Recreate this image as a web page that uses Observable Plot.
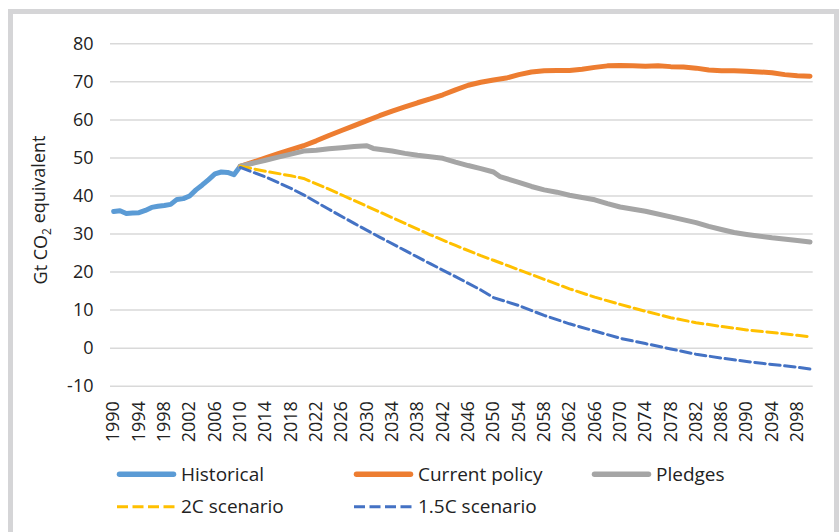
<!DOCTYPE html>
<html><head><meta charset="utf-8">
<script src="https://cdn.jsdelivr.net/npm/d3@7"></script>
<script src="https://cdn.jsdelivr.net/npm/@observablehq/plot@0.6"></script>
<style>
html,body{margin:0;padding:0;background:#fff;overflow:hidden;width:839px;height:532px}
#frame{position:absolute;left:8px;top:9px;width:831px;height:600px;border:5px solid #d5d5d7;box-sizing:border-box}
#chart{position:absolute;left:0;top:0}
#legend{position:absolute;left:0;top:455px}
</style></head><body>
<div id="frame"></div>
<div id="chart"></div>
<div id="legend"></div>
<script>
// ---- data ----
const histYears  = [1990,1991,1992,1993,1994,1995,1996,1997,1998,1999,2000,2001,2002,2003,2004,2005,2006,2007,2008,2009,2010];
const histValues = [35.9,36.1,35.4,35.5,35.6,36.2,37.0,37.3,37.5,37.8,39.1,39.3,40.0,41.6,42.9,44.3,45.8,46.3,46.2,45.6,47.8];

const policyYears  = [2010,2012,2014,2016,2018,2020,2022,2024,2026,2028,2030,2032,2034,2036,2038,2040,2042,2044,2046,2048,2050,2052,2054,2056,2058,2060,2062,2064,2066,2068,2070,2072,2074,2076,2078,2080,2082,2084,2086,2088,2090,2092,2094,2096,2098,2100];
const policyValues = [47.8,48.9,50.0,51.1,52.2,53.2,54.5,55.9,57.2,58.5,59.8,61.1,62.3,63.4,64.5,65.5,66.6,67.9,69.1,69.9,70.5,71.0,71.9,72.6,72.9,73.0,73.0,73.3,73.8,74.2,74.3,74.2,74.1,74.2,74.0,73.9,73.6,73.1,72.9,72.9,72.8,72.6,72.4,71.9,71.6,71.5];

const pledgeYears  = [2010,2012,2014,2016,2018,2020,2022,2024,2026,2028,2030,2031,2034,2036,2038,2040,2042,2044,2046,2048,2050,2051,2054,2056,2058,2060,2062,2064,2066,2068,2070,2074,2078,2082,2084,2086,2088,2090,2094,2098,2100];
const pledgeValues = [47.8,48.6,49.4,50.2,51.0,51.8,52.0,52.4,52.7,53.0,53.2,52.5,51.8,51.2,50.7,50.3,49.9,48.9,48.0,47.2,46.3,45.1,43.6,42.5,41.6,41.0,40.2,39.6,39.0,38.0,37.1,36.0,34.5,33.0,32.0,31.2,30.4,29.9,29.0,28.3,27.9];

const c2Years  = [2010,2014,2018,2020,2024,2028,2032,2036,2040,2044,2048,2050,2054,2058,2062,2066,2070,2074,2078,2082,2086,2090,2094,2098,2100];
const c2Values = [47.8,46.5,45.3,44.6,41.8,38.8,35.8,32.8,29.8,27.0,24.3,23.1,20.6,18.1,15.6,13.4,11.5,9.7,8.0,6.7,5.7,4.8,4.1,3.4,3.0];

const c15Years  = [2010,2014,2018,2020,2024,2028,2032,2036,2040,2044,2048,2050,2054,2058,2062,2066,2070,2074,2078,2082,2086,2090,2094,2098,2100];
const c15Values = [47.5,45.0,42.0,40.3,36.5,32.8,29.2,25.7,22.2,18.8,15.3,13.3,11.2,8.6,6.4,4.5,2.6,1.2,-0.2,-1.6,-2.6,-3.5,-4.3,-5.0,-5.5];

const seriesNames = ["Historical","Current policy","Pledges","2C scenario","1.5C scenario"];
const seriesColors = ["#5b9bd5","#ed7d31","#a5a5a5","#ffc000","#4472c4"];
const yTicks = [-10,0,10,20,30,40,50,60,70,80];
const xTicks = d3.range(1990, 2099, 4);
const yLabel = ["Gt CO", "2", " equivalent"];

const toRows = (name, ys, vs) => ys.map((y,i) => ({series:name, year:y, value:vs[i]}));
const hist = toRows(seriesNames[0], histYears, histValues);
const policy = toRows(seriesNames[1], policyYears, policyValues);
const pledge = toRows(seriesNames[2], pledgeYears, pledgeValues);
const c2 = toRows(seriesNames[3], c2Years, c2Values);
const c15 = toRows(seriesNames[4], c15Years, c15Values);

const W = 839, H = 455;
const TXT = "#222";
const solid = {strokeWidth:5, strokeLinecap:"round", strokeLinejoin:"round"};
const dashed = {strokeWidth:3, strokeDasharray:"10.5,4.5", strokeLinejoin:"round"};

const chart = Plot.plot({
  width: W, height: H,
  marginLeft: 110, marginRight: 26.3, marginTop: 43.3, marginBottom: H - 385.7,
  style: {fontFamily: "'Open Sans', sans-serif", fontSize: "18px", color: TXT, background: "transparent", overflow: "visible"},
  x: {domain: [1989.5, 2100.5]},
  y: {domain: [-10, 80]},
  marks: [
    Plot.ruleY(yTicks, {stroke: "#d9d9d9", strokeWidth: 1.5}),
    Plot.axisY({ticks: yTicks, tickSize: 0, tickPadding: 17, label: null, tickFormat: d => String(d)}),
    Plot.axisX({ticks: xTicks, tickSize: 0, tickPadding: 15, tickRotate: -90, label: null, tickFormat: d => String(d)}),
    Plot.line(hist, {x: "year", y: "value", stroke: seriesColors[0], ...solid}),
    Plot.line(policy, {x: "year", y: "value", stroke: seriesColors[1], ...solid}),
    Plot.line(pledge, {x: "year", y: "value", stroke: seriesColors[2], ...solid}),
    Plot.line(c2, {x: "year", y: "value", stroke: seriesColors[3], ...dashed}),
    Plot.line(c15, {x: "year", y: "value", stroke: seriesColors[4], ...dashed})
  ]
});
document.getElementById("chart").appendChild(chart);

// y-axis title with subscript
const t = d3.select(chart).append("text")
  .attr("transform", "translate(47,210) rotate(-90)")
  .attr("text-anchor", "middle")
  .attr("fill", TXT)
  .style("font-family", "'Open Sans', sans-serif")
  .style("font-size", "18px");
t.append("tspan").text(yLabel[0]);
t.append("tspan").attr("dy", "0.3em").style("font-size", "12px").text(yLabel[1]);
t.append("tspan").attr("dy", "-0.3em").text(yLabel[2]);

// legend
const legendItems = [
  {i:0, x:117, row:0, dash:false},
  {i:1, x:354, row:0, dash:false},
  {i:2, x:592, row:0, dash:false},
  {i:3, x:117, row:1, dash:true},
  {i:4, x:354, row:1, dash:true}
];
const lg = d3.select("#legend").append("svg").attr("width", W).attr("height", 532 - H);
const rowY = [474.3 - H, 506.7 - H];
for (const it of legendItems) {
  const g = lg.append("g");
  const yy = rowY[it.row];
  g.append("line").attr("x1", it.x + (it.dash ? 0 : 2.5)).attr("x2", it.x + (it.dash ? 59 : 56.5))
    .attr("y1", yy).attr("y2", yy)
    .attr("stroke", seriesColors[it.i])
    .attr("stroke-width", it.dash ? 3 : 5.5)
    .attr("stroke-linecap", it.dash ? "butt" : "round")
    .attr("stroke-dasharray", it.dash ? "11,4.5" : null);
  g.append("text").attr("x", it.x + 64).attr("y", yy + 6.5)
    .attr("fill", TXT)
    .style("font-family", "'Open Sans', sans-serif")
    .style("font-size", "19px")
    .text(seriesNames[it.i]);
}
</script>
</body></html>
